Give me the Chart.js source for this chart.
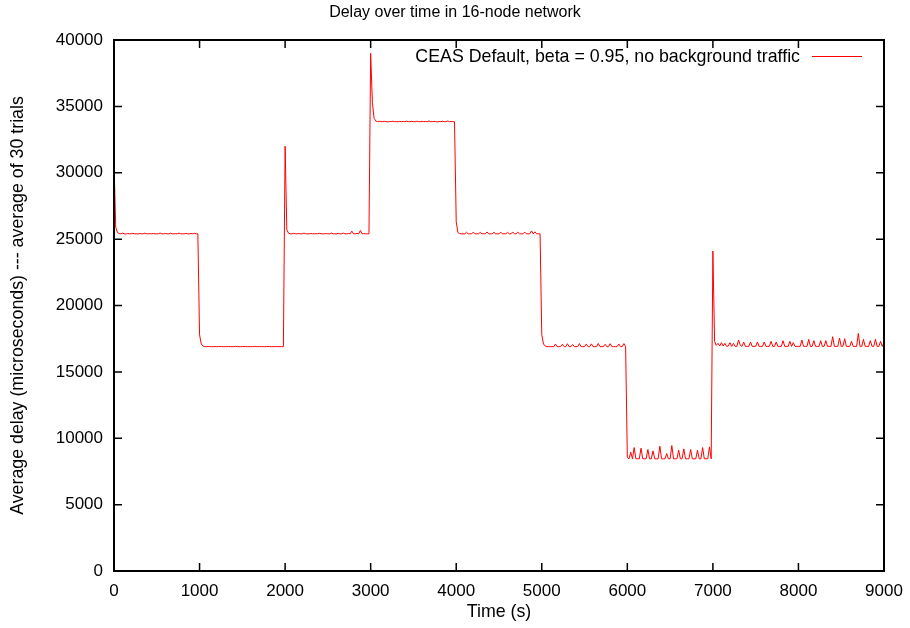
<!DOCTYPE html>
<html>
<head>
<meta charset="utf-8">
<script src="https://cdn.jsdelivr.net/npm/chart.js@4/dist/chart.umd.min.js"></script>
<style>
html,body{margin:0;padding:0;background:#fff;}
canvas{display:block;}
</style>
</head>
<body>
<canvas id="c" width="910" height="628"></canvas>
<script>
// Sample spacing of the recorded series (seconds)
const sampleStep = 20;
const segmentLength = 1000;

// Average delay values (microseconds), one array per 1000 s phase, sampled every 20 s
const phase0 = [30900,25900,25500,25420,25400,25450,25400,25380,25420,25400,
  25400,25440,25400,25400,25390,25420,25400,25400,25450,25400,
  25400,25410,25400,25430,25400,25400,25400,25460,25400,25400,
  25420,25400,25400,25440,25400,25400,25410,25400,25450,25400,
  25400,25400,25430,25400,25400,25420,25400,25440,25400,25400];
const phase1 = [17800,17100,16950,16900,16900,16920,16900,16900,16900,16910,
  16900,16900,16920,16900,16900,16900,16900,16910,16900,16900,
  16900,16920,16900,16900,16900,16900,16910,16900,16900,16900,
  16900,16900,16920,16900,16900,16900,16910,16900,16900,16900,
  16920,16900,16900,16900,16900,16910,16900,16900,16900,16900];
const phase2 = [32000,25700,25450,25400,25400,25430,25400,25400,25420,25400,
  25400,25450,25400,25400,25400,25430,25400,25400,25410,25400,
  25440,25400,25400,25400,25420,25400,25400,25460,25400,25400,
  25400,25430,25400,25400,25450,25400,25400,25420,25400,25600,
  25400,25400,25430,25400,25650,25400,25420,25400,25400,25400];
const phase3 = [39000,35300,34100,33900,33850,33880,33850,33850,33870,33850,
  33830,33860,33850,33880,33850,33850,33840,33870,33850,33860,
  33850,33890,33850,33850,33870,33850,33840,33880,33850,33850,
  33870,33850,33860,33850,33900,33850,33850,33870,33850,33830,
  33860,33850,33880,33850,33850,33900,33850,33860,33850,33850];
const phase4 = [26300,25500,25420,25400,25400,25400,25520,25400,25400,25400,
  25530,25400,25400,25400,25500,25400,25400,25400,25540,25400,
  25400,25400,25520,25400,25400,25400,25530,25400,25400,25400,
  25510,25400,25400,25540,25400,25400,25520,25400,25400,25400,
  25530,25400,25400,25400,25620,25400,25550,25400,25400,25400];
const phase5 = [17800,17100,16950,16900,16900,16900,16900,16900,17100,16900,
  16900,16900,17080,16900,16900,17120,16900,16900,17060,16900,
  16900,16900,17130,16900,16900,16900,17090,16900,16900,17110,
  16900,16900,16900,17140,16900,16900,16900,17080,16900,16900,
  17120,16900,16900,16900,16900,17100,16900,16900,17130,16900];
const phase6 = [8550,8450,8950,8450,9300,8450,8450,8450,9250,8450,
  8450,8450,9150,8450,8450,9050,8450,8450,8450,9400,
  8450,8450,8450,8850,8450,8450,9450,8450,8450,8450,
  9100,8450,8450,9200,8450,8450,8450,9150,8450,8450,
  8450,9100,8450,8450,9300,8450,8450,8450,9350,8450];
const phase7 = [24100,17300,17000,17150,16950,17200,16950,17150,16920,16950,
  17200,16920,17150,16920,16920,17400,17000,16920,17250,16920,
  16920,16920,17250,16920,16920,16920,17250,16920,16920,16920,
  17250,16920,16920,16920,17300,16920,16920,17250,16920,16920,
  16920,17350,16920,16920,16920,17300,16920,17200,16920,16920];
const phase8 = [16920,16920,17400,16920,16920,16920,17450,16920,16920,17350,
  16920,16920,16920,17350,16920,16920,17350,16920,16920,16920,
  17650,16920,16920,16920,17550,16920,16920,17500,16920,16920,
  16920,17300,16920,16920,16920,17900,16920,16920,17450,16920,
  16920,16920,17350,16920,16920,17450,16920,16920,17300,16920];
const finalValue = [17250]; // at t = 9000 s

const phases = [phase0, phase1, phase2, phase3, phase4, phase5, phase6, phase7, phase8];

// Tick labels
const xTicks = [0,1000,2000,3000,4000,5000,6000,7000,8000,9000];
const yTicks = [0,5000,10000,15000,20000,25000,30000,35000,40000];

const seriesLabel = 'CEAS Default, beta = 0.95, no background traffic';
const chartTitle = 'Delay over time in 16-node network';
const xTitle = 'Time (s)';
const yTitle = 'Average delay (microseconds) --- average of 30 trials';

const points = [];
phases.forEach((vals, k) => {
  vals.forEach((v, i) => points.push({x: k * segmentLength + i * sampleStep, y: v}));
});
points.push({x: phases.length * segmentLength, y: finalValue[0]});

const FONT = 'Liberation Sans, Arial, Helvetica, sans-serif';
const FS = 17;
const FT = 17.8;

const framePlugin = {
  id: 'gnuFrame',
  afterDatasetsDraw(chart) {
    const {ctx, chartArea: a, scales: {x, y}} = chart;
    const tl = 8;
    ctx.save();
    ctx.strokeStyle = '#000';
    ctx.lineWidth = 1.5;
    ctx.beginPath();
    xTicks.forEach(v => {
      const px = x.getPixelForValue(v);
      ctx.moveTo(px, a.bottom); ctx.lineTo(px, a.bottom - tl);
      ctx.moveTo(px, a.top); ctx.lineTo(px, a.top + tl);
    });
    yTicks.forEach(v => {
      const py = y.getPixelForValue(v);
      ctx.moveTo(a.left, py); ctx.lineTo(a.left + tl, py);
      ctx.moveTo(a.right, py); ctx.lineTo(a.right - tl, py);
    });
    ctx.stroke();
    ctx.lineWidth = 2;
    ctx.strokeRect(a.left, a.top, a.right - a.left, a.bottom - a.top);
    // key (legend) inside top-right, gnuplot style
    const ds = chart.data.datasets[0];
    ctx.font = FT + 'px ' + FONT;
    ctx.fillStyle = '#000';
    ctx.textAlign = 'right';
    ctx.textBaseline = 'alphabetic';
    ctx.fillText(ds.label, a.right - 84, a.top + 22);
    ctx.strokeStyle = ds.borderColor;
    ctx.lineWidth = 1;
    ctx.beginPath();
    ctx.moveTo(a.right - 72, a.top + 16.5);
    ctx.lineTo(a.right - 22, a.top + 16.5);
    ctx.stroke();
    ctx.restore();
  }
};

new Chart(document.getElementById('c'), {
  type: 'line',
  data: {
    datasets: [{
      label: seriesLabel,
      data: points,
      borderColor: '#ff0000',
      borderWidth: 1,
      pointRadius: 0,
      tension: 0,
      fill: false
    }]
  },
  options: {
    responsive: false,
    animation: false,
    devicePixelRatio: 1,
    layout: {padding: 0},
    plugins: {
      legend: {display: false},
      tooltip: {enabled: false},
      title: {
        display: true,
        text: chartTitle,
        color: '#000',
        font: {family: FONT, size: 16, weight: 'normal', lineHeight: 1.2},
        padding: {top: 3.4, bottom: 17.4}
      }
    },
    scales: {
      x: {
        type: 'linear',
        min: 0, max: 9000,
        afterBuildTicks: s => { s.ticks = xTicks.map(v => ({value: v})); },
        ticks: {color: '#000', font: {family: FONT, size: FS}, padding: 10, maxRotation: 0, autoSkip: false,
                callback: v => String(v)},
        grid: {display: false, drawTicks: false},
        border: {display: false},
        title: {display: true, text: xTitle, color: '#000', font: {family: FONT, size: FT, lineHeight: 1.2}, padding: {top: 0, bottom: 5.3}},
        afterFit: s => { s.height = 57; s.paddingLeft = 0; s.paddingRight = 0; }
      },
      y: {
        type: 'linear',
        min: 0, max: 40000,
        afterBuildTicks: s => { s.ticks = yTicks.map(v => ({value: v})); },
        ticks: {color: '#000', font: {family: FONT, size: FS}, padding: 11, autoSkip: false,
                callback: v => String(v)},
        grid: {display: false, drawTicks: false},
        border: {display: false},
        title: {display: true, text: yTitle, color: '#000', font: {family: FONT, size: FT, lineHeight: 1.2}, padding: {top: 7.3, bottom: 0}},
        afterFit: s => { s.width = 114; }
      },
      rightGap: {
        type: 'linear',
        position: 'right',
        display: true,
        ticks: {display: false},
        grid: {display: false, drawTicks: false},
        border: {display: false},
        afterFit: s => { s.width = 26; }
      }
    }
  },
  plugins: [framePlugin]
});
</script>
</body>
</html>
